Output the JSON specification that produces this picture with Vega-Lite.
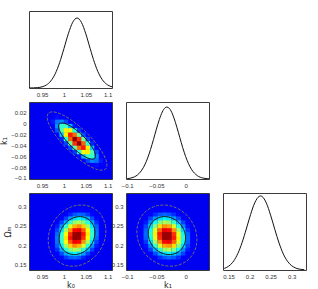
{
"$schema":"https://vega.github.io/schema/vega-lite/v6.json",
"background":"white",
"padding":{"left":0,"top":10,"right":0,"bottom":0},
"bounds":"flush",
"columns":3,
"spacing":{"row":14,"column":14},
"resolve":{"scale":{"x":"independent","y":"independent"}},
"config":{
 "view":{"stroke":"#3a3a3a","strokeWidth":1},
 "axis":{"labelFont":"Liberation Sans","labelFontSize":6,"labelColor":"#333","ticks":false,"domain":false,"grid":false,"labelPadding":3,"labelFlush":false,"labelOverlap":false,"titleFont":"DejaVu Sans","titleFontSize":8,"titleFontWeight":"normal","titleColor":"#222","titlePadding":2}
},
"datasets":{
 "m0":[{"x":0.92,"p":0.0004},{"x":0.93,"p":0.0017},{"x":0.94,"p":0.0057},{"x":0.95,"p":0.0169},{"x":0.96,"p":0.044},{"x":0.97,"p":0.1007},{"x":0.98,"p":0.203},{"x":0.99,"p":0.361},{"x":1.0,"p":0.563},{"x":1.01,"p":0.775},{"x":1.02,"p":0.938},{"x":1.03,"p":1},{"x":1.04,"p":0.938},{"x":1.05,"p":0.775},{"x":1.06,"p":0.563},{"x":1.07,"p":0.361},{"x":1.08,"p":0.203},{"x":1.09,"p":0.1007},{"x":1.1,"p":0.044},{"x":1.11,"p":0.0169}],
 "m1":[{"x":-0.1,"p":0.0053},{"x":-0.09,"p":0.022},{"x":-0.08,"p":0.0734},{"x":-0.07,"p":0.1946},{"x":-0.065,"p":0.291},{"x":-0.06,"p":0.411},{"x":-0.055,"p":0.549},{"x":-0.05,"p":0.693},{"x":-0.045,"p":0.826},{"x":-0.04,"p":0.93},{"x":-0.035,"p":0.99},{"x":-0.032,"p":1},{"x":-0.03,"p":0.9955},{"x":-0.025,"p":0.946},{"x":-0.02,"p":0.849},{"x":-0.015,"p":0.72},{"x":-0.01,"p":0.578},{"x":-0.005,"p":0.437},{"x":0.0,"p":0.313},{"x":0.005,"p":0.212},{"x":0.01,"p":0.135},{"x":0.02,"p":0.0466},{"x":0.03,"p":0.0128},{"x":0.04,"p":0.0028}],
 "m2":[{"x":0.14,"p":0.0213},{"x":0.15,"p":0.0495},{"x":0.16,"p":0.1037},{"x":0.17,"p":0.196},{"x":0.18,"p":0.3326},{"x":0.19,"p":0.51},{"x":0.2,"p":0.703},{"x":0.21,"p":0.875},{"x":0.22,"p":0.981},{"x":0.226,"p":1},{"x":0.23,"p":0.992},{"x":0.24,"p":0.903},{"x":0.25,"p":0.741},{"x":0.26,"p":0.548},{"x":0.27,"p":0.365},{"x":0.28,"p":0.219},{"x":0.29,"p":0.1186},{"x":0.3,"p":0.058},{"x":0.31,"p":0.0254},{"x":0.32,"p":0.0101},{"x":0.33,"p":0.0036}],
 "gA":[
{"x":1.065,"y":-0.084,"d":0.03},{"x":1.075,"y":-0.084,"d":0.05},{"x":1.085,"y":-0.084,"d":0.06},{"x":1.095,"y":-0.084,"d":0.05},{"x":1.105,"y":-0.084,"d":0.03},
{"x":1.055,"y":-0.076,"d":0.06},{"x":1.065,"y":-0.076,"d":0.11},{"x":1.075,"y":-0.076,"d":0.14},{"x":1.085,"y":-0.076,"d":0.12},{"x":1.095,"y":-0.076,"d":0.07},{"x":1.105,"y":-0.076,"d":0.03},
{"x":1.035,"y":-0.068,"d":0.03},{"x":1.045,"y":-0.068,"d":0.10},{"x":1.055,"y":-0.068,"d":0.19},{"x":1.065,"y":-0.068,"d":0.26},{"x":1.075,"y":-0.068,"d":0.24},{"x":1.085,"y":-0.068,"d":0.15},{"x":1.095,"y":-0.068,"d":0.06},
{"x":1.025,"y":-0.06,"d":0.05},{"x":1.035,"y":-0.06,"d":0.14},{"x":1.045,"y":-0.06,"d":0.30},{"x":1.055,"y":-0.06,"d":0.43},{"x":1.065,"y":-0.06,"d":0.42},{"x":1.075,"y":-0.06,"d":0.27},{"x":1.085,"y":-0.06,"d":0.12},{"x":1.095,"y":-0.06,"d":0.04},
{"x":1.015,"y":-0.052,"d":0.05},{"x":1.025,"y":-0.052,"d":0.18},{"x":1.035,"y":-0.052,"d":0.41},{"x":1.045,"y":-0.052,"d":0.62},{"x":1.055,"y":-0.052,"d":0.64},{"x":1.065,"y":-0.052,"d":0.45},{"x":1.075,"y":-0.052,"d":0.21},{"x":1.085,"y":-0.052,"d":0.07},
{"x":1.005,"y":-0.044,"d":0.06},{"x":1.015,"y":-0.044,"d":0.20},{"x":1.025,"y":-0.044,"d":0.47},{"x":1.035,"y":-0.044,"d":0.77},{"x":1.045,"y":-0.044,"d":0.85},{"x":1.055,"y":-0.044,"d":0.64},{"x":1.065,"y":-0.044,"d":0.32},{"x":1.075,"y":-0.044,"d":0.11},{"x":1.085,"y":-0.044,"d":0.03},
{"x":0.995,"y":-0.036,"d":0.05},{"x":1.005,"y":-0.036,"d":0.19},{"x":1.015,"y":-0.036,"d":0.48},{"x":1.025,"y":-0.036,"d":0.83},{"x":1.035,"y":-0.036,"d":0.98},{"x":1.045,"y":-0.036,"d":0.78},{"x":1.055,"y":-0.036,"d":0.42},{"x":1.065,"y":-0.036,"d":0.16},{"x":1.075,"y":-0.036,"d":0.04},
{"x":0.985,"y":-0.028,"d":0.04},{"x":0.995,"y":-0.028,"d":0.16},{"x":1.005,"y":-0.028,"d":0.42},{"x":1.015,"y":-0.028,"d":0.78},{"x":1.025,"y":-0.028,"d":0.98},{"x":1.035,"y":-0.028,"d":0.83},{"x":1.045,"y":-0.028,"d":0.48},{"x":1.055,"y":-0.028,"d":0.19},{"x":1.065,"y":-0.028,"d":0.05},
{"x":0.975,"y":-0.02,"d":0.03},{"x":0.985,"y":-0.02,"d":0.11},{"x":0.995,"y":-0.02,"d":0.32},{"x":1.005,"y":-0.02,"d":0.64},{"x":1.015,"y":-0.02,"d":0.85},{"x":1.025,"y":-0.02,"d":0.77},{"x":1.035,"y":-0.02,"d":0.47},{"x":1.045,"y":-0.02,"d":0.20},{"x":1.055,"y":-0.02,"d":0.06},
{"x":0.975,"y":-0.012,"d":0.07},{"x":0.985,"y":-0.012,"d":0.21},{"x":0.995,"y":-0.012,"d":0.45},{"x":1.005,"y":-0.012,"d":0.64},{"x":1.015,"y":-0.012,"d":0.62},{"x":1.025,"y":-0.012,"d":0.41},{"x":1.035,"y":-0.012,"d":0.18},{"x":1.045,"y":-0.012,"d":0.05},
{"x":0.965,"y":-0.004,"d":0.04},{"x":0.975,"y":-0.004,"d":0.12},{"x":0.985,"y":-0.004,"d":0.27},{"x":0.995,"y":-0.004,"d":0.42},{"x":1.005,"y":-0.004,"d":0.43},{"x":1.015,"y":-0.004,"d":0.30},{"x":1.025,"y":-0.004,"d":0.14},{"x":1.035,"y":-0.004,"d":0.05},
{"x":0.965,"y":0.004,"d":0.06},{"x":0.975,"y":0.004,"d":0.15},{"x":0.985,"y":0.004,"d":0.24},{"x":0.995,"y":0.004,"d":0.26},{"x":1.005,"y":0.004,"d":0.19},{"x":1.015,"y":0.004,"d":0.10},{"x":1.025,"y":0.004,"d":0.03},
{"x":0.955,"y":0.012,"d":0.03},{"x":0.965,"y":0.012,"d":0.07},{"x":0.975,"y":0.012,"d":0.12},{"x":0.985,"y":0.012,"d":0.14},{"x":0.995,"y":0.012,"d":0.11},{"x":1.005,"y":0.012,"d":0.06},
{"x":0.955,"y":0.02,"d":0.03},{"x":0.965,"y":0.02,"d":0.05},{"x":0.975,"y":0.02,"d":0.06},{"x":0.985,"y":0.02,"d":0.05},{"x":0.995,"y":0.02,"d":0.03}
 ],
 "gB":[
{"x":0.995,"y":0.15,"d":0.04},{"x":1.005,"y":0.15,"d":0.05},{"x":1.015,"y":0.15,"d":0.06},{"x":1.025,"y":0.15,"d":0.06},{"x":1.035,"y":0.15,"d":0.06},{"x":1.045,"y":0.15,"d":0.04},
{"x":0.985,"y":0.16,"d":0.05},{"x":0.995,"y":0.16,"d":0.08},{"x":1.005,"y":0.16,"d":0.11},{"x":1.015,"y":0.16,"d":0.12},{"x":1.025,"y":0.16,"d":0.13},{"x":1.035,"y":0.16,"d":0.11},{"x":1.045,"y":0.16,"d":0.09},{"x":1.055,"y":0.16,"d":0.06},{"x":1.065,"y":0.16,"d":0.03},
{"x":0.975,"y":0.17,"d":0.05},{"x":0.985,"y":0.17,"d":0.08},{"x":0.995,"y":0.17,"d":0.13},{"x":1.005,"y":0.17,"d":0.18},{"x":1.015,"y":0.17,"d":0.22},{"x":1.025,"y":0.17,"d":0.23},{"x":1.035,"y":0.17,"d":0.21},{"x":1.045,"y":0.17,"d":0.16},{"x":1.055,"y":0.17,"d":0.11},{"x":1.065,"y":0.17,"d":0.07},{"x":1.075,"y":0.17,"d":0.03},
{"x":0.965,"y":0.18,"d":0.03},{"x":0.975,"y":0.18,"d":0.07},{"x":0.985,"y":0.18,"d":0.13},{"x":0.995,"y":0.18,"d":0.20},{"x":1.005,"y":0.18,"d":0.29},{"x":1.015,"y":0.18,"d":0.35},{"x":1.025,"y":0.18,"d":0.37},{"x":1.035,"y":0.18,"d":0.34},{"x":1.045,"y":0.18,"d":0.28},{"x":1.055,"y":0.18,"d":0.19},{"x":1.065,"y":0.18,"d":0.12},{"x":1.075,"y":0.18,"d":0.06},
{"x":0.965,"y":0.19,"d":0.04},{"x":0.975,"y":0.19,"d":0.09},{"x":0.985,"y":0.19,"d":0.17},{"x":0.995,"y":0.19,"d":0.29},{"x":1.005,"y":0.19,"d":0.41},{"x":1.015,"y":0.19,"d":0.51},{"x":1.025,"y":0.19,"d":0.55},{"x":1.035,"y":0.19,"d":0.52},{"x":1.045,"y":0.19,"d":0.42},{"x":1.055,"y":0.19,"d":0.30},{"x":1.065,"y":0.19,"d":0.19},{"x":1.075,"y":0.19,"d":0.10},{"x":1.085,"y":0.19,"d":0.05},
{"x":0.965,"y":0.2,"d":0.05},{"x":0.975,"y":0.2,"d":0.11},{"x":0.985,"y":0.2,"d":0.22},{"x":0.995,"y":0.2,"d":0.36},{"x":1.005,"y":0.2,"d":0.53},{"x":1.015,"y":0.2,"d":0.67},{"x":1.025,"y":0.2,"d":0.74},{"x":1.035,"y":0.2,"d":0.70},{"x":1.045,"y":0.2,"d":0.59},{"x":1.055,"y":0.2,"d":0.42},{"x":1.065,"y":0.2,"d":0.27},{"x":1.075,"y":0.2,"d":0.15},{"x":1.085,"y":0.2,"d":0.07},
{"x":0.965,"y":0.21,"d":0.06},{"x":0.975,"y":0.21,"d":0.12},{"x":0.985,"y":0.21,"d":0.24},{"x":0.995,"y":0.21,"d":0.42},{"x":1.005,"y":0.21,"d":0.62},{"x":1.015,"y":0.21,"d":0.79},{"x":1.025,"y":0.21,"d":0.89},{"x":1.035,"y":0.21,"d":0.87},{"x":1.045,"y":0.21,"d":0.73},{"x":1.055,"y":0.21,"d":0.54},{"x":1.065,"y":0.21,"d":0.35},{"x":1.075,"y":0.21,"d":0.19},{"x":1.085,"y":0.21,"d":0.09},{"x":1.095,"y":0.21,"d":0.04},
{"x":0.965,"y":0.22,"d":0.05},{"x":0.975,"y":0.22,"d":0.12},{"x":0.985,"y":0.22,"d":0.25},{"x":0.995,"y":0.22,"d":0.43},{"x":1.005,"y":0.22,"d":0.65},{"x":1.015,"y":0.22,"d":0.86},{"x":1.025,"y":0.22,"d":0.98},{"x":1.035,"y":0.22,"d":0.97},{"x":1.045,"y":0.22,"d":0.83},{"x":1.055,"y":0.22,"d":0.62},{"x":1.065,"y":0.22,"d":0.41},{"x":1.075,"y":0.22,"d":0.23},{"x":1.085,"y":0.22,"d":0.11},{"x":1.095,"y":0.22,"d":0.05},
{"x":0.965,"y":0.23,"d":0.05},{"x":0.975,"y":0.23,"d":0.11},{"x":0.985,"y":0.23,"d":0.23},{"x":0.995,"y":0.23,"d":0.41},{"x":1.005,"y":0.23,"d":0.62},{"x":1.015,"y":0.23,"d":0.83},{"x":1.025,"y":0.23,"d":0.97},{"x":1.035,"y":0.23,"d":0.98},{"x":1.045,"y":0.23,"d":0.86},{"x":1.055,"y":0.23,"d":0.65},{"x":1.065,"y":0.23,"d":0.43},{"x":1.075,"y":0.23,"d":0.25},{"x":1.085,"y":0.23,"d":0.12},{"x":1.095,"y":0.23,"d":0.05},
{"x":0.965,"y":0.24,"d":0.04},{"x":0.975,"y":0.24,"d":0.09},{"x":0.985,"y":0.24,"d":0.19},{"x":0.995,"y":0.24,"d":0.35},{"x":1.005,"y":0.24,"d":0.54},{"x":1.015,"y":0.24,"d":0.73},{"x":1.025,"y":0.24,"d":0.87},{"x":1.035,"y":0.24,"d":0.89},{"x":1.045,"y":0.24,"d":0.79},{"x":1.055,"y":0.24,"d":0.62},{"x":1.065,"y":0.24,"d":0.42},{"x":1.075,"y":0.24,"d":0.24},{"x":1.085,"y":0.24,"d":0.12},{"x":1.095,"y":0.24,"d":0.06},
{"x":0.975,"y":0.25,"d":0.07},{"x":0.985,"y":0.25,"d":0.15},{"x":0.995,"y":0.25,"d":0.27},{"x":1.005,"y":0.25,"d":0.42},{"x":1.015,"y":0.25,"d":0.59},{"x":1.025,"y":0.25,"d":0.70},{"x":1.035,"y":0.25,"d":0.74},{"x":1.045,"y":0.25,"d":0.67},{"x":1.055,"y":0.25,"d":0.53},{"x":1.065,"y":0.25,"d":0.36},{"x":1.075,"y":0.25,"d":0.22},{"x":1.085,"y":0.25,"d":0.11},{"x":1.095,"y":0.25,"d":0.05},
{"x":0.975,"y":0.26,"d":0.05},{"x":0.985,"y":0.26,"d":0.10},{"x":0.995,"y":0.26,"d":0.19},{"x":1.005,"y":0.26,"d":0.30},{"x":1.015,"y":0.26,"d":0.42},{"x":1.025,"y":0.26,"d":0.52},{"x":1.035,"y":0.26,"d":0.55},{"x":1.045,"y":0.26,"d":0.51},{"x":1.055,"y":0.26,"d":0.41},{"x":1.065,"y":0.26,"d":0.29},{"x":1.075,"y":0.26,"d":0.17},{"x":1.085,"y":0.26,"d":0.09},{"x":1.095,"y":0.26,"d":0.04},
{"x":0.985,"y":0.27,"d":0.06},{"x":0.995,"y":0.27,"d":0.12},{"x":1.005,"y":0.27,"d":0.19},{"x":1.015,"y":0.27,"d":0.28},{"x":1.025,"y":0.27,"d":0.34},{"x":1.035,"y":0.27,"d":0.37},{"x":1.045,"y":0.27,"d":0.35},{"x":1.055,"y":0.27,"d":0.29},{"x":1.065,"y":0.27,"d":0.20},{"x":1.075,"y":0.27,"d":0.13},{"x":1.085,"y":0.27,"d":0.07},{"x":1.095,"y":0.27,"d":0.03},
{"x":0.985,"y":0.28,"d":0.03},{"x":0.995,"y":0.28,"d":0.07},{"x":1.005,"y":0.28,"d":0.11},{"x":1.015,"y":0.28,"d":0.16},{"x":1.025,"y":0.28,"d":0.21},{"x":1.035,"y":0.28,"d":0.23},{"x":1.045,"y":0.28,"d":0.22},{"x":1.055,"y":0.28,"d":0.18},{"x":1.065,"y":0.28,"d":0.13},{"x":1.075,"y":0.28,"d":0.08},{"x":1.085,"y":0.28,"d":0.05},
{"x":0.995,"y":0.29,"d":0.03},{"x":1.005,"y":0.29,"d":0.06},{"x":1.015,"y":0.29,"d":0.09},{"x":1.025,"y":0.29,"d":0.11},{"x":1.035,"y":0.29,"d":0.13},{"x":1.045,"y":0.29,"d":0.12},{"x":1.055,"y":0.29,"d":0.11},{"x":1.065,"y":0.29,"d":0.08},{"x":1.075,"y":0.29,"d":0.05},
{"x":1.015,"y":0.3,"d":0.04},{"x":1.025,"y":0.3,"d":0.06},{"x":1.035,"y":0.3,"d":0.06},{"x":1.045,"y":0.3,"d":0.06},{"x":1.055,"y":0.3,"d":0.05},{"x":1.065,"y":0.3,"d":0.04}
 ],
 "gC":[
{"x":-0.044,"y":0.15,"d":0.04},{"x":-0.036,"y":0.15,"d":0.06},{"x":-0.028,"y":0.15,"d":0.06},{"x":-0.02,"y":0.15,"d":0.06},{"x":-0.012,"y":0.15,"d":0.05},{"x":-0.004,"y":0.15,"d":0.04},
{"x":-0.06,"y":0.16,"d":0.04},{"x":-0.052,"y":0.16,"d":0.06},{"x":-0.044,"y":0.16,"d":0.09},{"x":-0.036,"y":0.16,"d":0.12},{"x":-0.028,"y":0.16,"d":0.13},{"x":-0.02,"y":0.16,"d":0.12},{"x":-0.012,"y":0.16,"d":0.10},{"x":-0.004,"y":0.16,"d":0.07},{"x":0.004,"y":0.16,"d":0.04},
{"x":-0.068,"y":0.17,"d":0.04},{"x":-0.06,"y":0.17,"d":0.07},{"x":-0.052,"y":0.17,"d":0.12},{"x":-0.044,"y":0.17,"d":0.17},{"x":-0.036,"y":0.17,"d":0.21},{"x":-0.028,"y":0.17,"d":0.23},{"x":-0.02,"y":0.17,"d":0.21},{"x":-0.012,"y":0.17,"d":0.17},{"x":-0.004,"y":0.17,"d":0.12},{"x":0.004,"y":0.17,"d":0.07},{"x":0.012,"y":0.17,"d":0.04},
{"x":-0.068,"y":0.18,"d":0.06},{"x":-0.06,"y":0.18,"d":0.12},{"x":-0.052,"y":0.18,"d":0.20},{"x":-0.044,"y":0.18,"d":0.28},{"x":-0.036,"y":0.18,"d":0.35},{"x":-0.028,"y":0.18,"d":0.37},{"x":-0.02,"y":0.18,"d":0.34},{"x":-0.012,"y":0.18,"d":0.27},{"x":-0.004,"y":0.18,"d":0.19},{"x":0.004,"y":0.18,"d":0.11},{"x":0.012,"y":0.18,"d":0.06},
{"x":-0.076,"y":0.19,"d":0.04},{"x":-0.068,"y":0.19,"d":0.10},{"x":-0.06,"y":0.19,"d":0.19},{"x":-0.052,"y":0.19,"d":0.30},{"x":-0.044,"y":0.19,"d":0.43},{"x":-0.036,"y":0.19,"d":0.52},{"x":-0.028,"y":0.19,"d":0.55},{"x":-0.02,"y":0.19,"d":0.50},{"x":-0.012,"y":0.19,"d":0.39},{"x":-0.004,"y":0.19,"d":0.26},{"x":0.004,"y":0.19,"d":0.15},{"x":0.012,"y":0.19,"d":0.08},{"x":0.02,"y":0.19,"d":0.03},
{"x":-0.076,"y":0.2,"d":0.07},{"x":-0.068,"y":0.2,"d":0.14},{"x":-0.06,"y":0.2,"d":0.26},{"x":-0.052,"y":0.2,"d":0.42},{"x":-0.044,"y":0.2,"d":0.59},{"x":-0.036,"y":0.2,"d":0.71},{"x":-0.028,"y":0.2,"d":0.73},{"x":-0.02,"y":0.2,"d":0.66},{"x":-0.012,"y":0.2,"d":0.51},{"x":-0.004,"y":0.2,"d":0.34},{"x":0.004,"y":0.2,"d":0.19},{"x":0.012,"y":0.2,"d":0.10},{"x":0.02,"y":0.2,"d":0.04},
{"x":-0.084,"y":0.21,"d":0.04},{"x":-0.076,"y":0.21,"d":0.09},{"x":-0.068,"y":0.21,"d":0.18},{"x":-0.06,"y":0.21,"d":0.34},{"x":-0.052,"y":0.21,"d":0.54},{"x":-0.044,"y":0.21,"d":0.73},{"x":-0.036,"y":0.21,"d":0.87},{"x":-0.028,"y":0.21,"d":0.89},{"x":-0.02,"y":0.21,"d":0.78},{"x":-0.012,"y":0.21,"d":0.60},{"x":-0.004,"y":0.21,"d":0.39},{"x":0.004,"y":0.21,"d":0.22},{"x":0.012,"y":0.21,"d":0.11},{"x":0.02,"y":0.21,"d":0.05},
{"x":-0.084,"y":0.22,"d":0.04},{"x":-0.076,"y":0.22,"d":0.10},{"x":-0.068,"y":0.22,"d":0.22},{"x":-0.06,"y":0.22,"d":0.39},{"x":-0.052,"y":0.22,"d":0.61},{"x":-0.044,"y":0.22,"d":0.83},{"x":-0.036,"y":0.22,"d":0.97},{"x":-0.028,"y":0.22,"d":0.97},{"x":-0.02,"y":0.22,"d":0.85},{"x":-0.012,"y":0.22,"d":0.64},{"x":-0.004,"y":0.22,"d":0.41},{"x":0.004,"y":0.22,"d":0.23},{"x":0.012,"y":0.22,"d":0.11},{"x":0.02,"y":0.22,"d":0.05},
{"x":-0.084,"y":0.23,"d":0.05},{"x":-0.076,"y":0.23,"d":0.11},{"x":-0.068,"y":0.23,"d":0.23},{"x":-0.06,"y":0.23,"d":0.41},{"x":-0.052,"y":0.23,"d":0.64},{"x":-0.044,"y":0.23,"d":0.85},{"x":-0.036,"y":0.23,"d":0.97},{"x":-0.028,"y":0.23,"d":0.97},{"x":-0.02,"y":0.23,"d":0.83},{"x":-0.012,"y":0.23,"d":0.61},{"x":-0.004,"y":0.23,"d":0.39},{"x":0.004,"y":0.23,"d":0.22},{"x":0.012,"y":0.23,"d":0.10},{"x":0.02,"y":0.23,"d":0.04},
{"x":-0.084,"y":0.24,"d":0.05},{"x":-0.076,"y":0.24,"d":0.11},{"x":-0.068,"y":0.24,"d":0.22},{"x":-0.06,"y":0.24,"d":0.39},{"x":-0.052,"y":0.24,"d":0.60},{"x":-0.044,"y":0.24,"d":0.78},{"x":-0.036,"y":0.24,"d":0.89},{"x":-0.028,"y":0.24,"d":0.87},{"x":-0.02,"y":0.24,"d":0.73},{"x":-0.012,"y":0.24,"d":0.54},{"x":-0.004,"y":0.24,"d":0.34},{"x":0.004,"y":0.24,"d":0.18},{"x":0.012,"y":0.24,"d":0.09},{"x":0.02,"y":0.24,"d":0.04},
{"x":-0.084,"y":0.25,"d":0.04},{"x":-0.076,"y":0.25,"d":0.10},{"x":-0.068,"y":0.25,"d":0.19},{"x":-0.06,"y":0.25,"d":0.34},{"x":-0.052,"y":0.25,"d":0.51},{"x":-0.044,"y":0.25,"d":0.66},{"x":-0.036,"y":0.25,"d":0.73},{"x":-0.028,"y":0.25,"d":0.71},{"x":-0.02,"y":0.25,"d":0.59},{"x":-0.012,"y":0.25,"d":0.42},{"x":-0.004,"y":0.25,"d":0.26},{"x":0.004,"y":0.25,"d":0.14},{"x":0.012,"y":0.25,"d":0.07},
{"x":-0.084,"y":0.26,"d":0.03},{"x":-0.076,"y":0.26,"d":0.08},{"x":-0.068,"y":0.26,"d":0.15},{"x":-0.06,"y":0.26,"d":0.26},{"x":-0.052,"y":0.26,"d":0.39},{"x":-0.044,"y":0.26,"d":0.50},{"x":-0.036,"y":0.26,"d":0.55},{"x":-0.028,"y":0.26,"d":0.52},{"x":-0.02,"y":0.26,"d":0.43},{"x":-0.012,"y":0.26,"d":0.30},{"x":-0.004,"y":0.26,"d":0.19},{"x":0.004,"y":0.26,"d":0.10},{"x":0.012,"y":0.26,"d":0.04},
{"x":-0.076,"y":0.27,"d":0.06},{"x":-0.068,"y":0.27,"d":0.11},{"x":-0.06,"y":0.27,"d":0.19},{"x":-0.052,"y":0.27,"d":0.27},{"x":-0.044,"y":0.27,"d":0.34},{"x":-0.036,"y":0.27,"d":0.37},{"x":-0.028,"y":0.27,"d":0.35},{"x":-0.02,"y":0.27,"d":0.28},{"x":-0.012,"y":0.27,"d":0.20},{"x":-0.004,"y":0.27,"d":0.12},{"x":0.004,"y":0.27,"d":0.06},
{"x":-0.076,"y":0.28,"d":0.04},{"x":-0.068,"y":0.28,"d":0.07},{"x":-0.06,"y":0.28,"d":0.12},{"x":-0.052,"y":0.28,"d":0.17},{"x":-0.044,"y":0.28,"d":0.21},{"x":-0.036,"y":0.28,"d":0.23},{"x":-0.028,"y":0.28,"d":0.21},{"x":-0.02,"y":0.28,"d":0.17},{"x":-0.012,"y":0.28,"d":0.12},{"x":-0.004,"y":0.28,"d":0.07},{"x":0.004,"y":0.28,"d":0.04},
{"x":-0.068,"y":0.29,"d":0.04},{"x":-0.06,"y":0.29,"d":0.07},{"x":-0.052,"y":0.29,"d":0.10},{"x":-0.044,"y":0.29,"d":0.12},{"x":-0.036,"y":0.29,"d":0.13},{"x":-0.028,"y":0.29,"d":0.12},{"x":-0.02,"y":0.29,"d":0.09},{"x":-0.012,"y":0.29,"d":0.06},{"x":-0.004,"y":0.29,"d":0.04},
{"x":-0.06,"y":0.3,"d":0.04},{"x":-0.052,"y":0.3,"d":0.05},{"x":-0.044,"y":0.3,"d":0.06},{"x":-0.036,"y":0.3,"d":0.06},{"x":-0.028,"y":0.3,"d":0.06},{"x":-0.02,"y":0.3,"d":0.04}
 ],
 "cA":[
{"lev":"in","k":0,"x":1.0428,"y":-0.022},{"lev":"in","k":1,"x":1.0614,"y":-0.0393},{"lev":"in","k":2,"x":1.0715,"y":-0.0546},{"lev":"in","k":3,"x":1.0706,"y":-0.0639},{"lev":"in","k":4,"x":1.0588,"y":-0.0646},{"lev":"in","k":5,"x":1.0392,"y":-0.0566},{"lev":"in","k":6,"x":1.0172,"y":-0.042},{"lev":"in","k":7,"x":0.9986,"y":-0.0247},{"lev":"in","k":8,"x":0.9885,"y":-0.0094},{"lev":"in","k":9,"x":0.9894,"y":-0.0001},{"lev":"in","k":10,"x":1.0012,"y":0.0006},{"lev":"in","k":11,"x":1.0208,"y":-0.0074},
{"lev":"out","k":0,"x":1.0506,"y":-0.0158},{"lev":"out","k":1,"x":1.0805,"y":-0.0437},{"lev":"out","k":2,"x":1.0969,"y":-0.0684},{"lev":"out","k":3,"x":1.0954,"y":-0.0834},{"lev":"out","k":4,"x":1.0764,"y":-0.0846},{"lev":"out","k":5,"x":1.0449,"y":-0.0717},{"lev":"out","k":6,"x":1.0094,"y":-0.0482},{"lev":"out","k":7,"x":0.9795,"y":-0.0203},{"lev":"out","k":8,"x":0.9631,"y":0.0044},{"lev":"out","k":9,"x":0.9646,"y":0.0194},{"lev":"out","k":10,"x":0.9836,"y":0.0206},{"lev":"out","k":11,"x":1.0151,"y":0.0077}
 ],
 "cB":[
{"lev":"in","k":0,"x":1.0611,"y":0.2619},{"lev":"in","k":1,"x":1.0703,"y":0.2411},{"lev":"in","k":2,"x":1.0687,"y":0.216},{"lev":"in","k":3,"x":1.0568,"y":0.1933},{"lev":"in","k":4,"x":1.0376,"y":0.1791},{"lev":"in","k":5,"x":1.0164,"y":0.1772},{"lev":"in","k":6,"x":0.9989,"y":0.1881},{"lev":"in","k":7,"x":0.9897,"y":0.2089},{"lev":"in","k":8,"x":0.9913,"y":0.234},{"lev":"in","k":9,"x":1.0032,"y":0.2567},{"lev":"in","k":10,"x":1.0224,"y":0.2709},{"lev":"in","k":11,"x":1.0436,"y":0.2728},
{"lev":"out","k":0,"x":1.0802,"y":0.2845},{"lev":"out","k":1,"x":1.095,"y":0.2509},{"lev":"out","k":2,"x":1.0924,"y":0.2105},{"lev":"out","k":3,"x":1.0731,"y":0.1739},{"lev":"out","k":4,"x":1.0423,"y":0.151},{"lev":"out","k":5,"x":1.0081,"y":0.148},{"lev":"out","k":6,"x":0.9798,"y":0.1655},{"lev":"out","k":7,"x":0.965,"y":0.1991},{"lev":"out","k":8,"x":0.9676,"y":0.2395},{"lev":"out","k":9,"x":0.9869,"y":0.2761},{"lev":"out","k":10,"x":1.0177,"y":0.299},{"lev":"out","k":11,"x":1.0519,"y":0.302}
 ],
 "cC":[
{"lev":"in","k":0,"x":-0.0108,"y":0.2573},{"lev":"in","k":1,"x":-0.0017,"y":0.2347},{"lev":"in","k":2,"x":-0.0007,"y":0.2096},{"lev":"in","k":3,"x":-0.0081,"y":0.1886},{"lev":"in","k":4,"x":-0.0219,"y":0.1773},{"lev":"in","k":5,"x":-0.0384,"y":0.1789},{"lev":"in","k":6,"x":-0.0532,"y":0.1927},{"lev":"in","k":7,"x":-0.0623,"y":0.2153},{"lev":"in","k":8,"x":-0.0633,"y":0.2404},{"lev":"in","k":9,"x":-0.0559,"y":0.2614},{"lev":"in","k":10,"x":-0.0421,"y":0.2727},{"lev":"in","k":11,"x":-0.0256,"y":0.2711},
{"lev":"out","k":0,"x":0.0021,"y":0.277},{"lev":"out","k":1,"x":0.0168,"y":0.2407},{"lev":"out","k":2,"x":0.0184,"y":0.2002},{"lev":"out","k":3,"x":0.0065,"y":0.1663},{"lev":"out","k":4,"x":-0.0157,"y":0.1482},{"lev":"out","k":5,"x":-0.0423,"y":0.1506},{"lev":"out","k":6,"x":-0.0661,"y":0.173},{"lev":"out","k":7,"x":-0.0808,"y":0.2093},{"lev":"out","k":8,"x":-0.0824,"y":0.2498},{"lev":"out","k":9,"x":-0.0705,"y":0.2837},{"lev":"out","k":10,"x":-0.0483,"y":0.3018},{"lev":"out","k":11,"x":-0.0217,"y":0.2994}
 ]
},
"concat":[
  {"width":83,"height":77,"data":{"name":"m0"},
   "mark":{"type":"line","interpolate":"monotone","color":"#111","strokeWidth":1,"clip":true},
   "encoding":{"x":{"field":"x","type":"quantitative","scale":{"domain":[0.92,1.11],"nice":false,"zero":false},"axis":{"values":[0.95,1,1.05,1.1],"format":"~g","title":null}},
    "y":{"field":"p","type":"quantitative","scale":{"domain":[0,1.1],"nice":false},"axis":null}}},
  {"width":83,"height":77,"view":{"stroke":null},"data":{"values":[]},"mark":{"type":"point","opacity":0},"encoding":{}},
  {"width":83,"height":77,"view":{"stroke":null},"data":{"values":[]},"mark":{"type":"point","opacity":0},"encoding":{}},
  {"width":83,"height":77,"view":{"fill":"#0000f0"},
   "encoding":{"x":{"field":"x","type":"quantitative","scale":{"domain":[0.92,1.11],"nice":false,"zero":false},"axis":{"values":[0.95,1,1.05,1.1],"format":"~g","title":null}},
    "y":{"field":"y","type":"quantitative","scale":{"domain":[-0.102,0.04],"nice":false,"zero":false},"axis":{"values":[0.02,0,-0.02,-0.04,-0.06,-0.08,-0.1],"format":"~g","title":"k₁"}}},
   "layer":[
    {"data":{"name":"gA"},"mark":{"type":"square","size":22,"opacity":1,"strokeWidth":0,"clip":true},
     "encoding":{"color":{"field":"d","type":"quantitative","scale":{"domain":[0,0.125,0.375,0.625,0.875,1],"range":["#0000f0","#0000ff","#00ffff","#ffff00","#ff0000","#800000"],"interpolate":"rgb"},"legend":null}}},
    {"data":{"name":"cA"},"transform":[{"filter":{"field":"lev","equal":"out"}}],"mark":{"type":"line","interpolate":"cardinal-closed","color":"#6e6e6e","strokeWidth":1,"strokeDash":[3,1.5],"clip":true},"encoding":{"order":{"field":"k","type":"quantitative"}}},
    {"data":{"name":"cA"},"transform":[{"filter":{"field":"lev","equal":"in"}}],"mark":{"type":"line","interpolate":"cardinal-closed","color":"#1a1a1a","strokeWidth":1,"clip":true},"encoding":{"order":{"field":"k","type":"quantitative"}}}
   ]},
  {"width":83,"height":77,"data":{"name":"m1"},
   "mark":{"type":"line","interpolate":"monotone","color":"#111","strokeWidth":1,"clip":true},
   "encoding":{"x":{"field":"x","type":"quantitative","scale":{"domain":[-0.102,0.04],"nice":false,"zero":false},"axis":{"values":[-0.1,-0.05,0],"format":"~g","title":null}},
    "y":{"field":"p","type":"quantitative","scale":{"domain":[0,1.07],"nice":false},"axis":null}}},
  {"width":83,"height":77,"view":{"stroke":null},"data":{"values":[]},"mark":{"type":"point","opacity":0},"encoding":{}},
  {"width":83,"height":77,"view":{"fill":"#0000f0"},
   "encoding":{"x":{"field":"x","type":"quantitative","scale":{"domain":[0.92,1.11],"nice":false,"zero":false},"axis":{"values":[0.95,1,1.05,1.1],"format":"~g","title":"k₀"}},
    "y":{"field":"y","type":"quantitative","scale":{"domain":[0.137,0.334],"nice":false,"zero":false},"axis":{"values":[0.15,0.2,0.25,0.3],"format":"~g","title":"Ωₘ"}}},
   "layer":[
    {"data":{"name":"gB"},"mark":{"type":"square","size":22,"opacity":1,"strokeWidth":0,"clip":true},
     "encoding":{"color":{"field":"d","type":"quantitative","scale":{"domain":[0,0.125,0.375,0.625,0.875,1],"range":["#0000f0","#0000ff","#00ffff","#ffff00","#ff0000","#800000"],"interpolate":"rgb"},"legend":null}}},
    {"data":{"name":"cB"},"transform":[{"filter":{"field":"lev","equal":"out"}}],"mark":{"type":"line","interpolate":"cardinal-closed","color":"#6e6e6e","strokeWidth":1,"strokeDash":[3,1.5],"clip":true},"encoding":{"order":{"field":"k","type":"quantitative"}}},
    {"data":{"name":"cB"},"transform":[{"filter":{"field":"lev","equal":"in"}}],"mark":{"type":"line","interpolate":"cardinal-closed","color":"#1a1a1a","strokeWidth":1,"clip":true},"encoding":{"order":{"field":"k","type":"quantitative"}}}
   ]},
  {"width":83,"height":77,"view":{"fill":"#0000f0"},
   "encoding":{"x":{"field":"x","type":"quantitative","scale":{"domain":[-0.102,0.04],"nice":false,"zero":false},"axis":{"values":[-0.1,-0.05,0],"format":"~g","title":"k₁"}},
    "y":{"field":"y","type":"quantitative","scale":{"domain":[0.137,0.334],"nice":false,"zero":false},"axis":{"values":[0.15,0.2,0.25,0.3],"format":"~g","title":null}}},
   "layer":[
    {"data":{"name":"gC"},"mark":{"type":"square","size":22,"opacity":1,"strokeWidth":0,"clip":true},
     "encoding":{"color":{"field":"d","type":"quantitative","scale":{"domain":[0,0.125,0.375,0.625,0.875,1],"range":["#0000f0","#0000ff","#00ffff","#ffff00","#ff0000","#800000"],"interpolate":"rgb"},"legend":null}}},
    {"data":{"name":"cC"},"transform":[{"filter":{"field":"lev","equal":"out"}}],"mark":{"type":"line","interpolate":"cardinal-closed","color":"#6e6e6e","strokeWidth":1,"strokeDash":[3,1.5],"clip":true},"encoding":{"order":{"field":"k","type":"quantitative"}}},
    {"data":{"name":"cC"},"transform":[{"filter":{"field":"lev","equal":"in"}}],"mark":{"type":"line","interpolate":"cardinal-closed","color":"#1a1a1a","strokeWidth":1,"clip":true},"encoding":{"order":{"field":"k","type":"quantitative"}}}
   ]},
  {"width":83,"height":77,"data":{"name":"m2"},
   "mark":{"type":"line","interpolate":"monotone","color":"#111","strokeWidth":1,"clip":true},
   "encoding":{"x":{"field":"x","type":"quantitative","scale":{"domain":[0.137,0.334],"nice":false,"zero":false},"axis":{"values":[0.15,0.2,0.25,0.3],"format":"~g","title":null}},
    "y":{"field":"p","type":"quantitative","scale":{"domain":[0,1.04],"nice":false},"axis":null}}}
]
}
